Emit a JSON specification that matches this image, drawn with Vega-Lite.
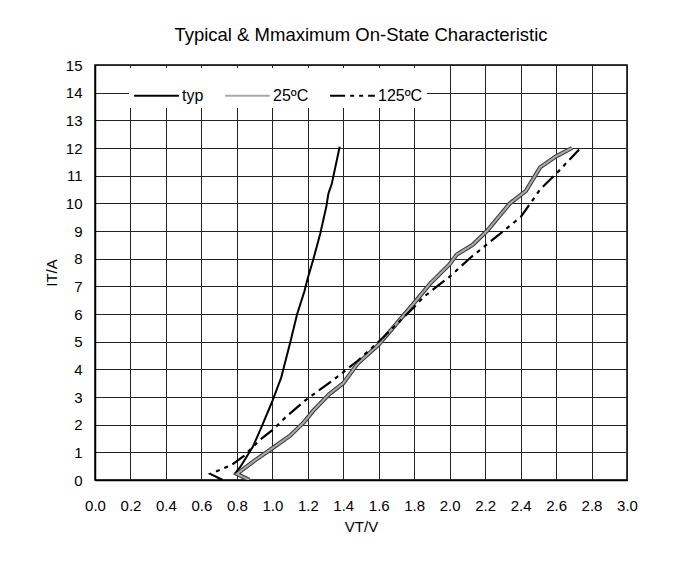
{
  "$schema": "https://vega.github.io/schema/vega-lite/v6.json",
  "width": 532,
  "height": 415,
  "autosize": {"type": "none"},
  "padding": {"left": 95, "top": 65, "right": 55, "bottom": 88},
  "background": "white",
  "title": {"text": "Typical & Mmaximum On-State Characteristic", "font": "Liberation Sans", "fontSize": 18.5, "fontWeight": "normal", "color": "black", "offset": 14},
  "config": {
    "view": {"stroke": "black", "strokeWidth": 1.5},
    "font": "Liberation Sans"
  },
  "data": {"values": [
    {"s": "typ", "i": 0, "v": 0.79, "a": 0.24},
    {"s": "typ", "i": 1, "v": 0.82, "a": 0.48},
    {"s": "typ", "i": 2, "v": 0.89, "a": 1.2},
    {"s": "typ", "i": 3, "v": 0.94, "a": 1.93},
    {"s": "typ", "i": 4, "v": 1.0, "a": 2.85},
    {"s": "typ", "i": 5, "v": 1.05, "a": 3.7},
    {"s": "typ", "i": 6, "v": 1.1, "a": 4.95},
    {"s": "typ", "i": 7, "v": 1.14, "a": 6.0},
    {"s": "typ", "i": 8, "v": 1.18, "a": 6.8},
    {"s": "typ", "i": 9, "v": 1.2, "a": 7.3},
    {"s": "typ", "i": 10, "v": 1.23, "a": 7.95},
    {"s": "typ", "i": 11, "v": 1.27, "a": 8.9},
    {"s": "typ", "i": 12, "v": 1.305, "a": 9.9},
    {"s": "typ", "i": 13, "v": 1.316, "a": 10.35},
    {"s": "typ", "i": 14, "v": 1.335, "a": 10.7},
    {"s": "typ", "i": 15, "v": 1.38, "a": 12.05},
    {"s": "25ºC", "i": 0, "v": 0.87, "a": 0.0},
    {"s": "25ºC", "i": 1, "v": 0.8, "a": 0.22},
    {"s": "25ºC", "i": 2, "v": 0.9, "a": 0.7},
    {"s": "25ºC", "i": 3, "v": 1.0, "a": 1.15},
    {"s": "25ºC", "i": 4, "v": 1.1, "a": 1.6},
    {"s": "25ºC", "i": 5, "v": 1.18, "a": 2.1},
    {"s": "25ºC", "i": 6, "v": 1.23, "a": 2.5},
    {"s": "25ºC", "i": 7, "v": 1.32, "a": 3.1},
    {"s": "25ºC", "i": 8, "v": 1.4, "a": 3.5},
    {"s": "25ºC", "i": 9, "v": 1.48, "a": 4.2},
    {"s": "25ºC", "i": 10, "v": 1.6, "a": 4.9},
    {"s": "25ºC", "i": 11, "v": 1.68, "a": 5.5},
    {"s": "25ºC", "i": 12, "v": 1.8, "a": 6.4},
    {"s": "25ºC", "i": 13, "v": 1.89, "a": 7.1},
    {"s": "25ºC", "i": 14, "v": 2.0, "a": 7.8},
    {"s": "25ºC", "i": 15, "v": 2.04, "a": 8.15},
    {"s": "25ºC", "i": 16, "v": 2.13, "a": 8.5},
    {"s": "25ºC", "i": 17, "v": 2.21, "a": 9.0},
    {"s": "25ºC", "i": 18, "v": 2.34, "a": 10.0},
    {"s": "25ºC", "i": 19, "v": 2.43, "a": 10.45},
    {"s": "25ºC", "i": 20, "v": 2.51, "a": 11.3},
    {"s": "25ºC", "i": 21, "v": 2.6, "a": 11.7},
    {"s": "25ºC", "i": 22, "v": 2.69, "a": 12.0},
    {"s": "125ºC", "i": 0, "v": 0.72, "a": 0.0},
    {"s": "125ºC", "i": 1, "v": 0.65, "a": 0.22},
    {"s": "125ºC", "i": 2, "v": 0.77, "a": 0.54},
    {"s": "125ºC", "i": 3, "v": 0.84, "a": 0.87},
    {"s": "125ºC", "i": 4, "v": 0.93, "a": 1.45},
    {"s": "125ºC", "i": 5, "v": 1.0, "a": 1.8},
    {"s": "125ºC", "i": 6, "v": 1.08, "a": 2.3},
    {"s": "125ºC", "i": 7, "v": 1.19, "a": 2.9},
    {"s": "125ºC", "i": 8, "v": 1.34, "a": 3.6},
    {"s": "125ºC", "i": 9, "v": 1.48, "a": 4.3},
    {"s": "125ºC", "i": 10, "v": 1.6, "a": 5.0},
    {"s": "125ºC", "i": 11, "v": 1.8, "a": 6.25},
    {"s": "125ºC", "i": 12, "v": 1.85, "a": 6.6},
    {"s": "125ºC", "i": 13, "v": 2.0, "a": 7.35},
    {"s": "125ºC", "i": 14, "v": 2.12, "a": 8.05},
    {"s": "125ºC", "i": 15, "v": 2.4, "a": 9.5},
    {"s": "125ºC", "i": 16, "v": 2.51, "a": 10.5},
    {"s": "125ºC", "i": 17, "v": 2.62, "a": 11.2},
    {"s": "125ºC", "i": 18, "v": 2.73, "a": 11.95}
  ]},
  "encoding": {
    "x": {
      "field": "v", "type": "quantitative",
      "scale": {"domain": [0, 3], "nice": false, "zero": false},
      "axis": {
        "title": "VT/V", "values": [0, 0.2, 0.4, 0.6, 0.8, 1.0, 1.2, 1.4, 1.6, 1.8, 2.0, 2.2, 2.4, 2.6, 2.8, 3.0],
        "format": ".1f", "labelFontSize": 15, "titleFontSize": 15, "titleFontWeight": "normal",
        "labelColor": "black", "titleColor": "black", "ticks": false, "labelPadding": 18, "titlePadding": 6,
        "domainColor": "black", "domainWidth": 1.5, "gridColor": "#222", "gridOpacity": 1, "gridWidth": 1,
        "labelFlush": false, "labelOverlap": false
      }
    },
    "y": {
      "field": "a", "type": "quantitative",
      "scale": {"domain": [0, 15], "nice": false},
      "axis": {
        "title": "IT/A", "values": [0,1,2,3,4,5,6,7,8,9,10,11,12,13,14,15],
        "labelFontSize": 15, "titleFontSize": 15, "titleFontWeight": "normal",
        "labelColor": "black", "titleColor": "black", "ticks": false, "labelPadding": 13, "titlePadding": 6,
        "domainColor": "black", "domainWidth": 1.5, "gridColor": "#222", "gridOpacity": 1, "gridWidth": 1,
        "labelFlush": false, "labelOverlap": false
      }
    },
    "order": {"field": "i", "type": "quantitative"}
  },
  "layer": [
    {
      "transform": [{"filter": "datum.s === '25ºC'"}],
      "mark": {"type": "line", "clip": true, "color": "#3a3a3a", "strokeWidth": 4.2}
    },
    {
      "mark": {"type": "line", "clip": true},
      "encoding": {
        "color": {
          "field": "s", "type": "nominal",
          "scale": {"domain": ["typ", "25ºC", "125ºC"], "range": ["black", "#a8a8a8", "black"]},
          "legend": {
            "title": null, "orient": "none", "legendX": 34, "legendY": 3, "direction": "horizontal",
            "fillColor": "white", "padding": 4, "symbolType": "stroke", "symbolSize": 2000,
            "labelFontSize": 16, "labelColor": "black", "columnPadding": 16, "labelOffset": 2
          }
        },
        "strokeDash": {
          "field": "s", "type": "nominal",
          "scale": {"domain": ["typ", "25ºC", "125ºC"], "range": [[1, 0], [1, 0], [15, 5, 4, 5, 4, 5]]},
          "legend": {
            "title": null, "orient": "none", "legendX": 34, "legendY": 3, "direction": "horizontal",
            "fillColor": "white", "padding": 4, "symbolType": "stroke", "symbolSize": 2000,
            "labelFontSize": 16, "labelColor": "black", "columnPadding": 16, "labelOffset": 2
          }
        },
        "strokeWidth": {
          "field": "s", "type": "nominal",
          "scale": {"domain": ["typ", "25ºC", "125ºC"], "range": [2, 2.2, 2.5]},
          "legend": {
            "title": null, "orient": "none", "legendX": 34, "legendY": 3, "direction": "horizontal",
            "fillColor": "white", "padding": 4, "symbolType": "stroke", "symbolSize": 2000,
            "labelFontSize": 16, "labelColor": "black", "columnPadding": 16, "labelOffset": 2
          }
        }
      }
    }
  ]
}
